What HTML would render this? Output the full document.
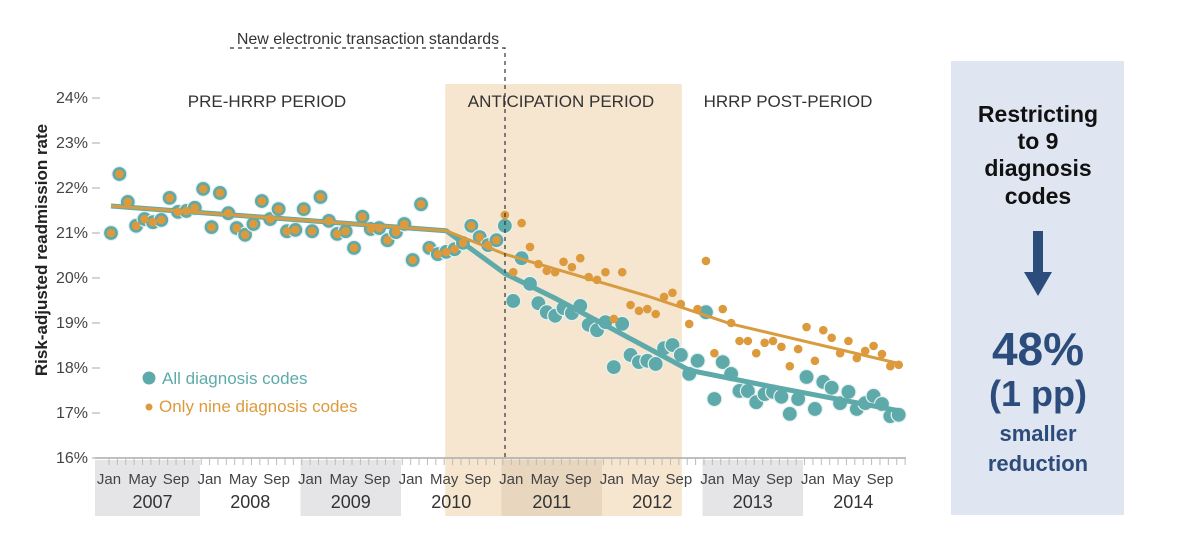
<!DOCTYPE html>
<html><head><meta charset="utf-8">
<style>
body{margin:0;background:#fff;width:1200px;height:546px;overflow:hidden;font-family:"Liberation Sans","DejaVu Sans",sans-serif;}
svg{display:block}
.lbl{font-family:"Liberation Sans","DejaVu Sans",sans-serif;}
</style></head>
<body>
<svg id="chart" width="1200" height="546" viewBox="0 0 1200 546" xmlns="http://www.w3.org/2000/svg">
<rect x="0" y="0" width="1200" height="546" fill="#fff"/>
<g id="bg"></g>
<g id="axes"></g>
<g id="marks"></g>
<g id="ann"></g>
<rect x="951" y="61" width="173" height="454" fill="#dfe6f1"/>
<g font-family="Liberation Sans, Arial, sans-serif" font-weight="bold" text-anchor="middle">
<text x="1038" y="122" font-size="23" fill="#111">Restricting</text>
<text x="1038" y="149" font-size="23" fill="#111">to 9</text>
<text x="1038" y="176" font-size="23" fill="#111">diagnosis</text>
<text x="1038" y="204" font-size="23" fill="#111">codes</text>
<text x="1038" y="365" font-size="46" fill="#2c4d7c">48%</text>
<text x="1038" y="406" font-size="36" fill="#2c4d7c">(1 pp)</text>
<text x="1038" y="441" font-size="22" fill="#2c4d7c">smaller</text>
<text x="1038" y="471" font-size="22" fill="#2c4d7c">reduction</text>
</g>
<g fill="#2c4d7c">
<rect x="1033" y="231" width="10" height="43"/>
<polygon points="1024,272 1052,272 1038,296"/>
</g>
</svg>
<script>
const months = Array.from({length:95},(_,i)=>i);
const sharedVals = [21.0,22.31,21.69,21.16,21.31,21.24,21.29,21.78,21.47,21.49,21.56,21.98,21.13,21.89,21.44,21.11,20.96,21.2,21.71,21.31,21.53,21.04,21.07,21.53,21.04,21.8,21.27,20.98,21.04,20.67,21.36,21.09,21.11,20.84,21.02,21.2,20.4,21.64,20.67,20.53,20.58,20.64,20.78,21.16,20.91,20.73,20.84];
const orangeLate = [21.4,20.13,21.22,20.69,20.31,20.16,20.13,20.36,20.24,20.44,20.02,19.96,20.13,19.09,20.13,19.4,19.27,19.31,19.2,19.58,19.67,19.42,18.98,19.31,20.38,18.33,19.31,19.0,18.6,18.6,18.33,18.56,18.6,18.47,18.04,18.42,18.91,18.16,18.84,18.67,18.33,18.6,18.22,18.38,18.49,18.31,18.04,18.07];
const tealLate = [21.16,19.49,20.44,19.87,19.44,19.24,19.16,19.33,19.22,19.38,18.96,18.84,19.02,18.02,18.98,18.29,18.13,18.16,18.09,18.44,18.51,18.29,17.87,18.16,19.24,17.31,18.13,17.87,17.49,17.49,17.24,17.42,17.47,17.36,16.98,17.31,17.8,17.09,17.69,17.56,17.22,17.47,17.09,17.22,17.38,17.2,16.93,16.96];
const orangeVals = sharedVals.concat(orangeLate);
const tealVals = sharedVals.concat(tealLate);
const trendMonths = [0,40,47,64,74,94];
const orangeTrend = [21.6,21.05,20.53,19.6,18.98,18.1];
const tealTrendMonths = [0,40,47,53,58,64,69,79,94];
const tealTrend = [21.6,21.05,20.1,19.55,19.05,18.45,17.95,17.58,17.05];
const yTicks = [16,17,18,19,20,21,22,23,24];
const years = [2007,2008,2009,2010,2011,2012,2013,2014];
const monthLabels = ["Jan","May","Sep"];
const monthLabelIdx = [0,4,8];

const NS="http://www.w3.org/2000/svg";
const X = m => 111 + 8.38*m;
const Y = v => 458 - (v-16)*45;
function mk(tag, attrs, parent, txt){const e=document.createElementNS(NS,tag);for(const k in attrs)e.setAttribute(k,attrs[k]);if(txt!==undefined)e.textContent=txt;parent.appendChild(e);return e;}
const bg=document.getElementById('bg'), axes=document.getElementById('axes'), marks=document.getElementById('marks'), ann=document.getElementById('ann');

let sh=mk('rect',{x:X(40)-1,y:84,width:X(68)-X(40)+2,height:432,fill:'#f6e6cf'},bg);


years.forEach((yr,k)=>{
  const x0 = k===0 ? 95 : 200+100.5*(k-1);
  const x1 = 200+100.5*k;
  if(k%2===0){
    const inShade = x0>=X(40)-1 && x1<=X(68)+1;
    const r=mk('rect',{x:x0,y:460,width:x1-x0,height:56,fill:inShade?'#e8d6bf':'#e5e5e7'},bg);
    
    
  }
  const t=mk('text',{x:(Math.max(x0,95)+x1)/2+ (k===0?5:0),y:508,'font-size':18,fill:'#333','text-anchor':'middle',class:'lbl'},axes,String(yr));
  
  
  monthLabels.forEach((ml,j)=>{
    const mt=mk('text',{x:X(k*12+monthLabelIdx[j])-2,y:484,'font-size':15,fill:'#444','text-anchor':'middle',class:'lbl'},axes,ml);
    
    
  });
});
let ax=mk('line',{x1:95,y1:458,x2:906,y2:458,stroke:'#aaa','stroke-width':1.5},axes);


for(let m=0;m<96;m++){
  const tk=mk('line',{x1:X(m)-2,y1:458,x2:X(m)-2,y2:465,stroke:'#bbb','stroke-width':1},axes);
  
  
}
yTicks.forEach(v=>{
  const t=mk('text',{x:88,y:Y(v)+5,'font-size':16,fill:'#444','text-anchor':'end',class:'lbl'},axes,v+'%');
  
  
  const l=mk('line',{x1:92,y1:Y(v),x2:100,y2:Y(v),stroke:'#aaa','stroke-width':1},axes);
  
  
});
let yt=mk('text',{x:0,y:0,'font-size':17,fill:'#222','text-anchor':'middle',transform:'translate(47,250) rotate(-90)',class:'lbl','font-weight':'bold'},axes,'Risk-adjusted readmission rate');



const poly=(ms,vs)=>ms.map((m,i)=>X(m)+','+Y(vs[i])).join(' ');
tealVals.forEach((v,i)=>{
  const c=mk('circle',{cx:X(i),cy:Y(v),r:7.5,fill:'#5eaaab',stroke:'#e8f1ef','stroke-width':1.2},marks);
  
  
});
let tl=mk('polyline',{points:poly(tealTrendMonths,tealTrend),fill:'none',stroke:'#5eaaab','stroke-width':5,'stroke-linejoin':'round'},marks);


let ol=mk('polyline',{points:poly(trendMonths,orangeTrend),fill:'none',stroke:'#d99b3f','stroke-width':3,'stroke-linejoin':'round'},marks);


orangeVals.forEach((v,i)=>{
  const c=mk('circle',{cx:X(i),cy:Y(v),r:4.3,fill:'#dc9a3c'},marks);
  
  
});

let dl=mk('polyline',{points:'230,48 505,48 505,458',fill:'none',stroke:'#333','stroke-width':1.2,'stroke-dasharray':'4,4'},ann);


let at=mk('text',{x:368,y:44,'font-size':16,fill:'#333','text-anchor':'middle',class:'lbl'},ann,'New electronic transaction standards');


[['PRE-HRRP PERIOD',267],['ANTICIPATION PERIOD',561],['HRRP POST-PERIOD',788]].forEach(([s,x])=>{
  const t=mk('text',{x:x,y:107,'font-size':17,fill:'#333','text-anchor':'middle',class:'lbl'},ann,s);
  
  
});
let lc=mk('circle',{cx:149,cy:378,r:6.5,fill:'#5eaaab'},ann);


let lt=mk('text',{x:162,y:384,'font-size':17,fill:'#5eaaab',class:'lbl'},ann,'All diagnosis codes');


let lc2=mk('circle',{cx:149,cy:407,r:3.5,fill:'#dc9a3c'},ann);


let lt2=mk('text',{x:159,y:412,'font-size':17,fill:'#dc9a3c',class:'lbl'},ann,'Only nine diagnosis codes');


</script>
</body></html>
